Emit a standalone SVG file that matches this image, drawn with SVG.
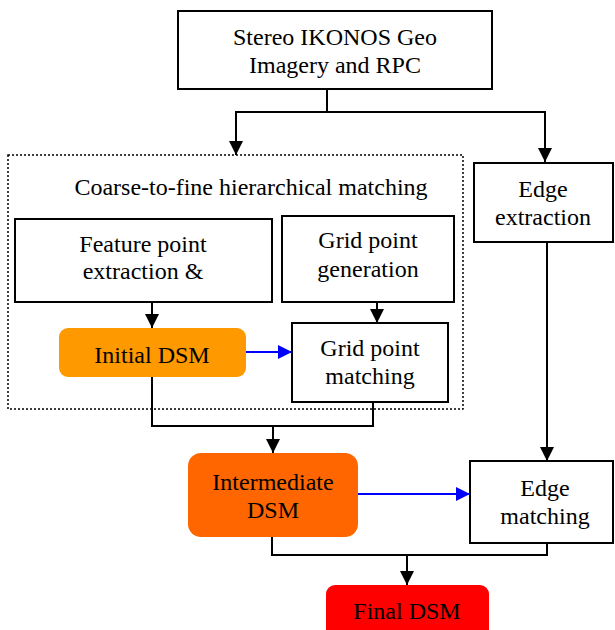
<svg xmlns="http://www.w3.org/2000/svg" width="615" height="630" viewBox="0 0 615 630">
<style>
.box{fill:#fff;stroke:#000;stroke-width:2}
.t{font-family:"Liberation Serif","Times New Roman",serif;font-size:24px;fill:#000;text-anchor:middle}
.c{fill:none;stroke:#000;stroke-width:2}
.b{fill:none;stroke:#0000ff;stroke-width:2}
</style>
<defs>
<marker id="ah" markerWidth="14" markerHeight="14" refX="14" refY="7" orient="auto" markerUnits="userSpaceOnUse"><path d="M0,0 L14,7 L0,14 Z" fill="#000"/></marker>
<marker id="ahb" markerWidth="14" markerHeight="14" refX="14" refY="7" orient="auto" markerUnits="userSpaceOnUse"><path d="M0,0 L14,7 L0,14 Z" fill="#0000ff"/></marker>
</defs>
<rect width="615" height="630" fill="#fff"/>
<g id="connectors">
<path class="c" d="M327,89 V112 H545 V162" marker-end="url(#ah)"/>
<path class="c" d="M327,112 H236 V155" marker-end="url(#ah)"/>
<path class="c" d="M152,302 V328" marker-end="url(#ah)"/>
<path class="c" d="M377,302 V323" marker-end="url(#ah)"/>
<path class="b" d="M246,352 H292" marker-end="url(#ahb)"/>
<path class="c" d="M152,377 V426 H373 V402"/>
<path class="c" d="M273,426 V453" marker-end="url(#ah)"/>
<path class="c" d="M547,242 V461" marker-end="url(#ah)"/>
<path class="b" d="M358,494 H470" marker-end="url(#ahb)"/>
<path class="c" d="M272,537 V555 H547 V543"/>
<path class="c" d="M407,555 V585" marker-end="url(#ah)"/>
</g>
<g id="input">
<rect class="box" x="178" y="11" width="314" height="78"/>
<text class="t" x="335" y="45">Stereo IKONOS Geo</text>
<text class="t" x="335" y="73">Imagery and RPC</text>
</g>
<g id="hierarchical">
<rect x="8" y="155" width="455" height="254" fill="none" stroke="#000" stroke-width="1.5" stroke-dasharray="2,2"/>
<text class="t" x="251" y="195">Coarse-to-fine hierarchical matching</text>
</g>
<g id="feature">
<rect class="box" x="15" y="219" width="257" height="83"/>
<text class="t" x="143" y="252">Feature point</text>
<text class="t" x="143" y="279">extraction &amp;</text>
</g>
<g id="gridgen">
<rect class="box" x="282" y="216" width="172" height="86"/>
<text class="t" x="368" y="248">Grid point</text>
<text class="t" x="368" y="277">generation</text>
</g>
<g id="initial">
<rect x="59" y="328" width="187" height="49" rx="9" fill="#ff9900"/>
<text class="t" x="152" y="363">Initial DSM</text>
</g>
<g id="gridmatch">
<rect class="box" x="292" y="323" width="156" height="79"/>
<text class="t" x="370" y="356">Grid point</text>
<text class="t" x="370" y="384">matching</text>
</g>
<g id="edgeext">
<rect class="box" x="474" y="163" width="139" height="79"/>
<text class="t" x="543" y="197">Edge</text>
<text class="t" x="543" y="225">extraction</text>
</g>
<g id="intermediate">
<rect x="188" y="453" width="170" height="84" rx="13" fill="#ff6600"/>
<text class="t" x="273" y="490">Intermediate</text>
<text class="t" x="273" y="518">DSM</text>
</g>
<g id="edgematch">
<rect class="box" x="470" y="461" width="143" height="82"/>
<text class="t" x="545" y="496">Edge</text>
<text class="t" x="545" y="524">matching</text>
</g>
<g id="final">
<rect x="326" y="585" width="163" height="60" rx="9" fill="#ff0000"/>
<text class="t" x="407" y="619">Final DSM</text>
</g>
</svg>
